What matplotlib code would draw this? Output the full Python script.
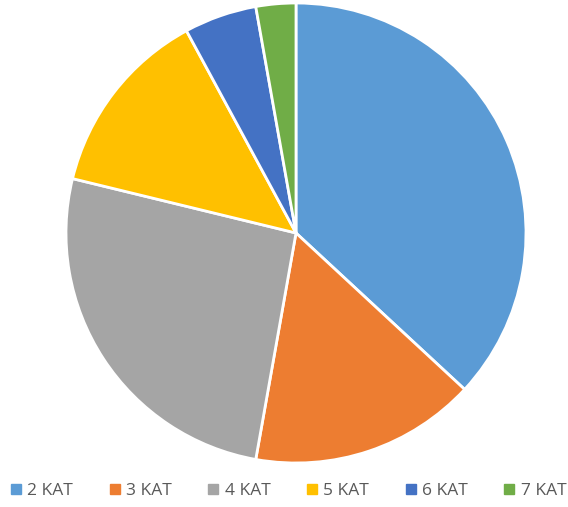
import matplotlib
matplotlib.use("Agg")
import matplotlib.pyplot as plt
from matplotlib.lines import Line2D

categories = ["2 KAT", "3 KAT", "4 KAT", "5 KAT", "6 KAT", "7 KAT"]
values = [36.9, 15.9, 26.0, 13.3, 5.1, 2.8]
colors = ["#5B9BD5", "#ED7D31", "#A5A5A5", "#FFC000", "#4472C4", "#70AD47"]

W, H = 568, 507
fig = plt.figure(figsize=(W / 100, H / 100), dpi=100)
cx, cy, r = 296, 507 - 233, 230
ax = fig.add_axes([(cx - r) / W, (cy - r) / H, 2 * r / W, 2 * r / H])
ax.pie(values, colors=colors, startangle=90, counterclock=False,
       wedgeprops=dict(edgecolor="white", linewidth=2))
ax.set_xlim(-1, 1)
ax.set_ylim(-1, 1)
ax.set_aspect("equal")
ax.axis("off")

handles = [Line2D([0], [0], marker="s", linestyle="none", markersize=6.5,
                  markerfacecolor=c, markeredgecolor=c) for c in colors]
fig.legend(handles, categories, loc="center", bbox_to_anchor=(0.508, 1 - 491 / H),
           ncol=6, frameon=False, handlelength=0.6,
           handletextpad=0.35, columnspacing=2.1, labelcolor="#595959",
           prop={"family": "Open Sans", "size": 12.5})
fig.savefig("out.png", dpi=100)
